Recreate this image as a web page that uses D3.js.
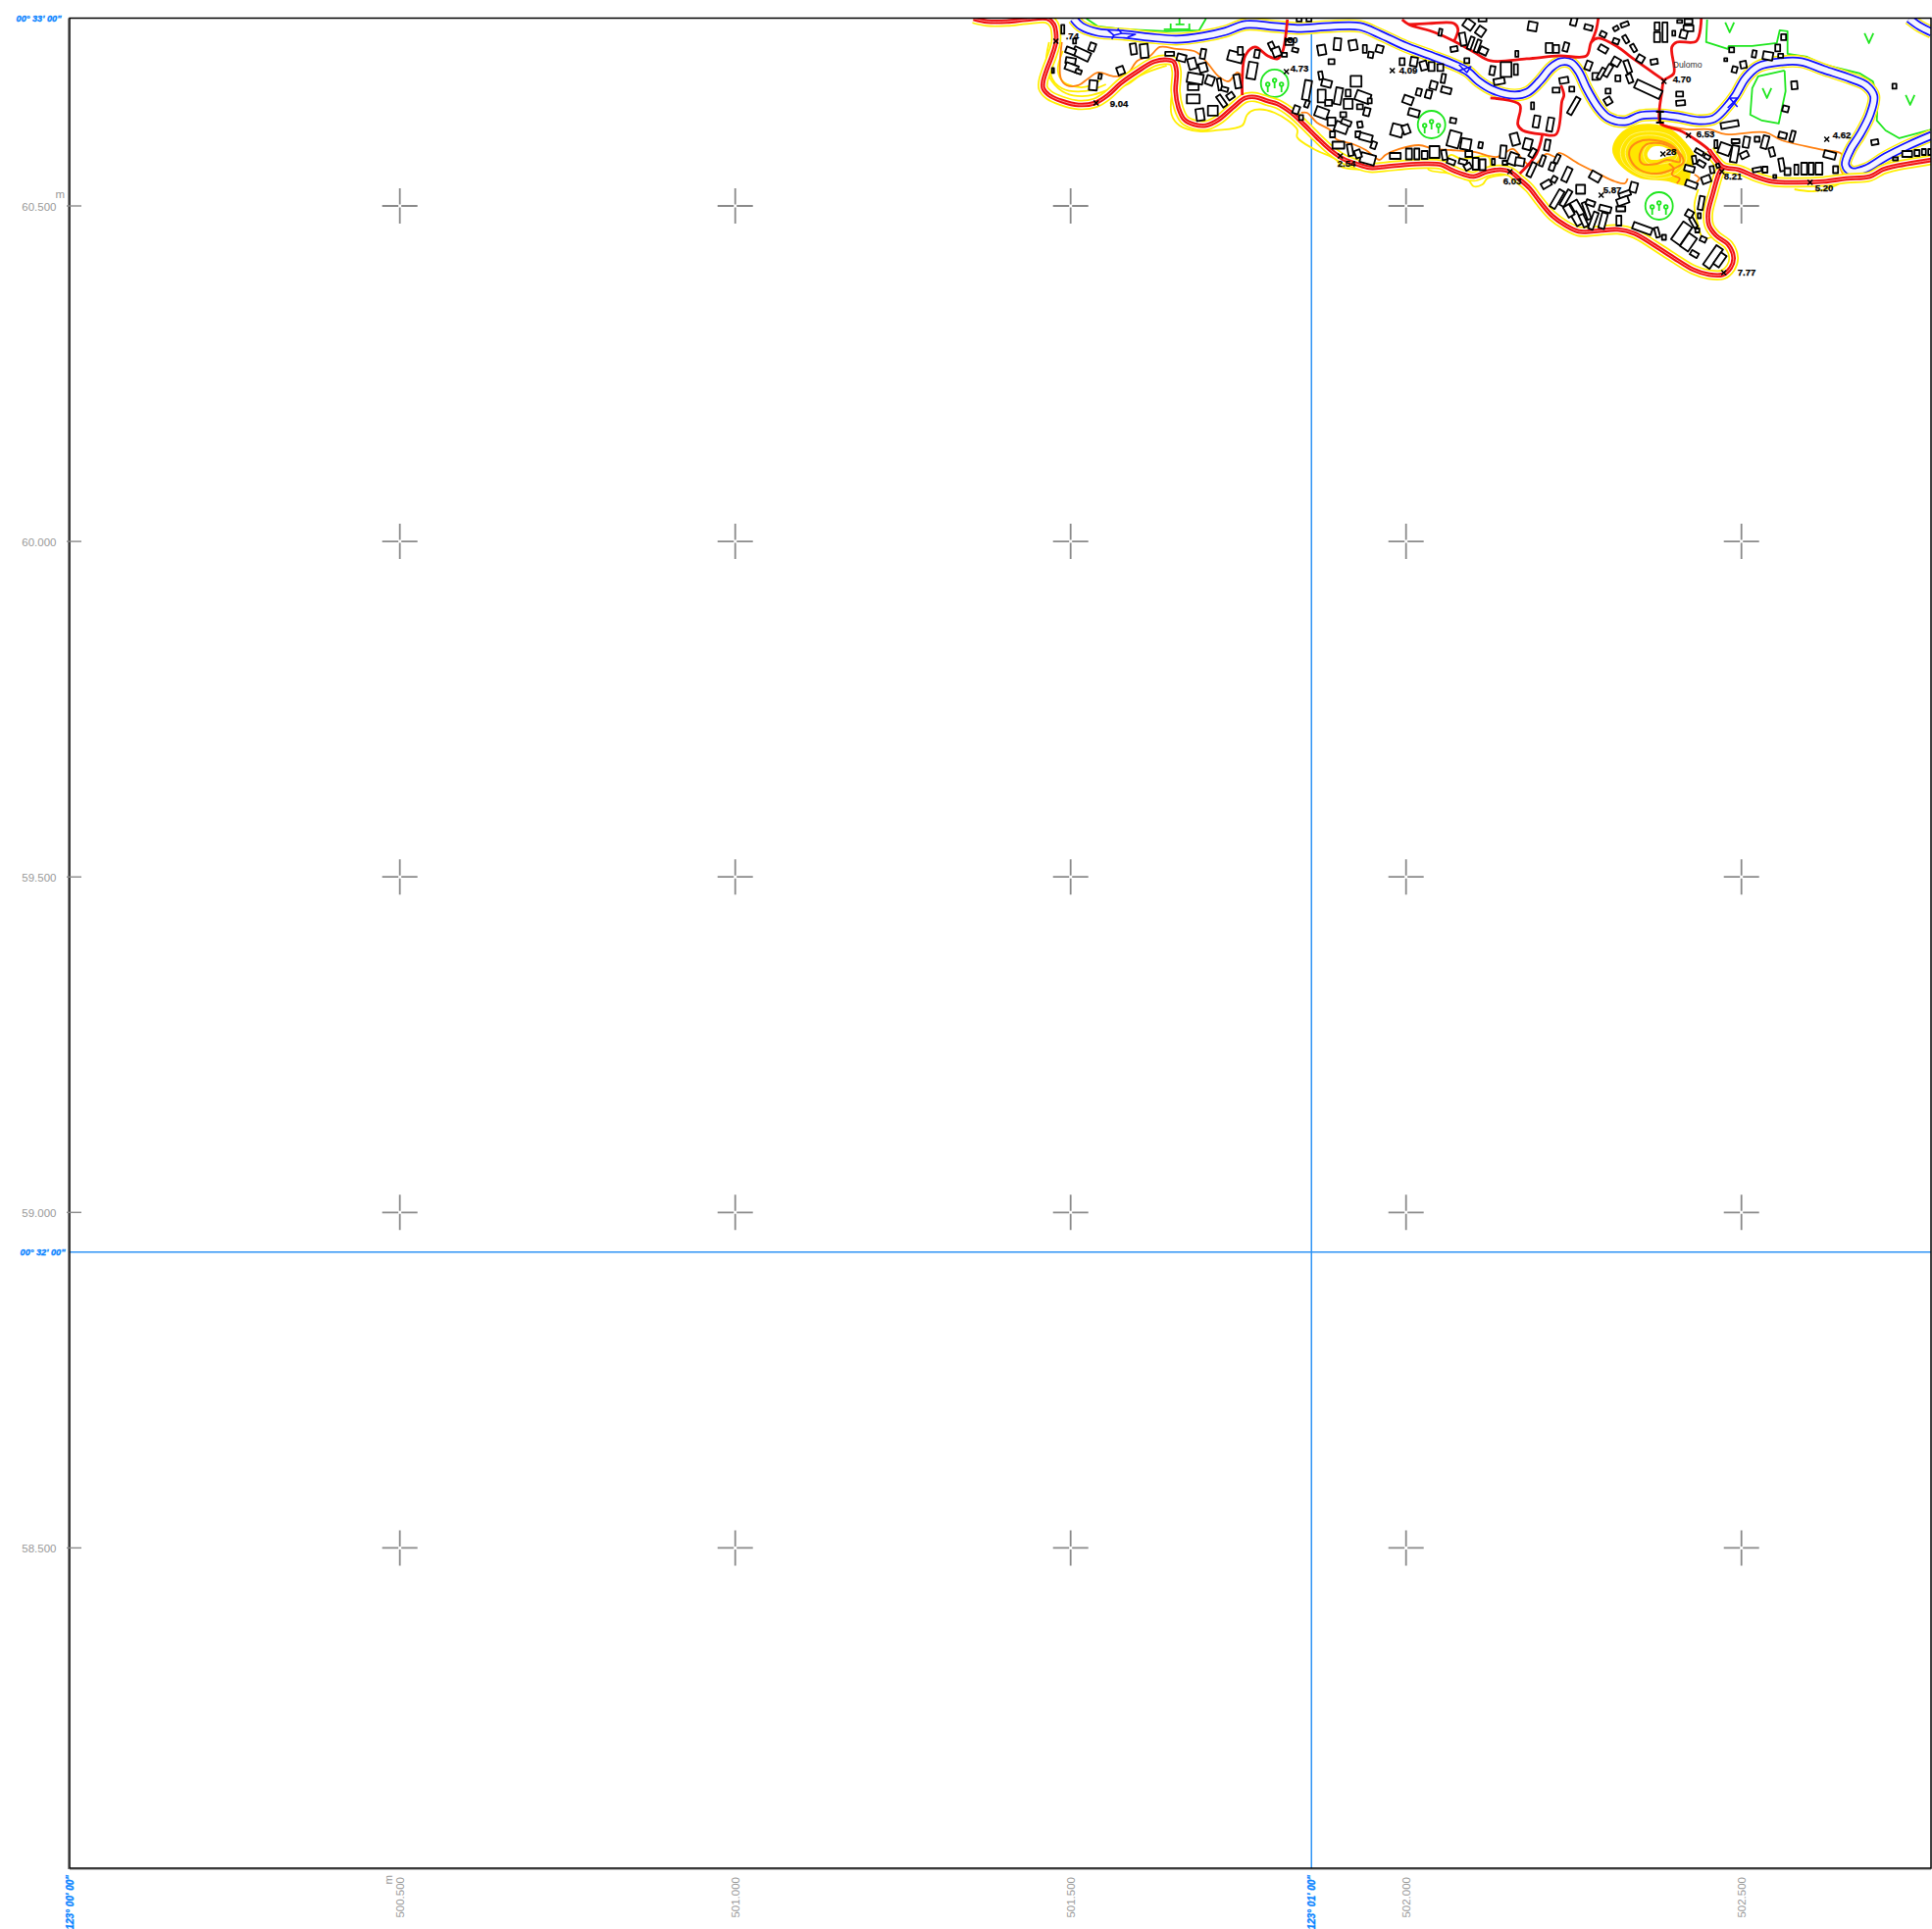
<!DOCTYPE html>
<html>
<meta charset="utf-8">
<style>
  html, body { margin: 0; padding: 0; background: #fff; }
  text { font-family: "Liberation Sans", Arial, sans-serif; }
  .grid-label { fill: #999; font-size: 11.5px; }
  .geo-label { fill: #0a84ff; stroke: #0a84ff; stroke-width: 0.35px; font-size: 9.2px; font-weight: bold; font-style: italic; }
  .spot { fill: #000; stroke: #000; stroke-width: 0.25px; font-size: 9.6px; font-weight: bold; }
</style>
<body>
<div id="map"></div>
<script src="https://d3js.org/d3.v7.min.js"></script>
<script>
// grid of the sheet, metres
const gridEast = [500500, 501000, 501500, 502000, 502500];
const gridNorth = [60500, 60000, 59500, 59000, 58500];
const eastLabels = ["500.500", "501.000", "501.500", "502.000", "502.500"];
const northLabels = ["60.500", "60.000", "59.500", "59.000", "58.500"];

// graticule, metres on the same grid
const geoEast = [500008, 501859];
const geoEastLabels = ["123° 00' 00\"", "123° 01' 00\""];
const geoNorth = [60780, 58941];
const geoNorthLabels = ["00° 33' 00\"", "00° 32' 00\""];

// map features digitised from the sheet: [u, v] in sheet units,
// origin at E 501000 / N 60000, 342 units to one 500 m grid cell
const coastRoad = [[243,533],[257,530],[277,530],[297,532],[318,533],[325,527],[327,519],[327,509],[323,495],[318,482],[314,469],[314,462],[320,455],[333,449],[350,445],[367,447],[380,455],[393,467],[410,479],[427,489],[440,491],[447,489],[450,479],[449,459],[452,442],[458,430],[468,425],[480,424],[493,430],[507,442],[520,452],[530,453],[543,449],[553,446],[567,437],[580,425],[593,412],[607,399],[620,390],[633,385],[647,381],[663,382],[683,384],[703,385],[720,384],[730,379],[743,374],[753,372],[767,377],[780,379],[790,377],[800,369],[810,360],[820,347],[833,332],[847,322],[860,316],[873,316],[883,317],[900,318],[917,314],[937,302],[957,289],[977,277],[993,272],[1007,272],[1015,279],[1018,289],[1013,302],[1000,312],[993,322],[992,335],[997,355],[1003,375],[1007,382]];
const eastCoastRoad = [[993,399],[1007,382],[1023,379],[1040,372],[1057,367],[1083,366],[1110,367],[1133,370],[1157,372],[1170,379],[1180,382],[1220,389]];
const villageRoads = [
  [[1007,382],[993,399],[980,409],[963,419],[953,422],[943,427],[945,459],[947,470],[957,477],[955,504],[960,509],[980,510],[985,533]],
  [[947,470],[930,482],[913,494],[900,504],[880,513],[873,509],[868,495],[840,495],[807,492],[770,490],[753,499],[733,510],[713,519],[687,527],[680,532]],
  [[873,509],[878,522],[880,533]],
  [[687,527],[707,528],[733,528],[737,522],[733,510]],
  [[770,452],[800,445],[798,425],[803,419],[823,415],[837,415],[843,449],[845,455],[842,465]],
  [[823,415],[817,395],[800,375]],
  [[517,455],[517,472],[520,495],[530,504],[543,495],[553,492],[558,499],[563,532]]
];
const riverMain = [[345,533],[353,525],[370,519],[397,517],[423,514],[450,512],[477,515],[500,520],[520,527],[550,525],[573,523],[607,525],[637,525],[657,517],[683,505],[710,495],[733,486],[747,479],[758,469],[773,460],[795,455],[808,458],[820,469],[832,483],[842,489],[852,488],[860,479],[868,462],[880,442],[890,432],[907,428],[923,434],[940,435],[960,433],[983,429],[998,431],[1010,442],[1020,455],[1030,472],[1043,484],[1067,489],[1087,489],[1110,481],[1137,472],[1153,465],[1161,454],[1157,435],[1147,415],[1137,399],[1132,384],[1138,377],[1153,380],[1173,392],[1197,404],[1220,414]];
const riverNorth = [[1197,533],[1208,525],[1220,519]];
const riverMarks = [
  [[380,521],[386,516],[394,518],[390,523]], [[386,516],[384,512]], [[394,518],[408,517],[400,514]],
  [[738,486],[746,478],[750,484],[738,480]], [[1012,442],[1022,452],[1014,452],[1022,443]]
];
const contourLines = [
  [[257,533],[270,532],[282,533]],
  [[320,509],[317,485],[323,469],[337,457],[357,454],[380,460],[400,466],[413,475],[440,485]],
  [[330,520],[326,495],[322,475],[333,462],[357,459],[378,466]],
  [[334,500],[329,480],[335,468],[355,463],[372,470]],
  [[445,455],[445,435],[453,424],[473,418],[490,419],[517,424],[522,435],[530,440],[550,437],[573,420],[573,412],[590,400],[613,389],[618,382],[647,379],[683,381]],
  [[707,383],[707,379],[730,375],[747,369],[753,362],[762,364],[767,370],[787,374]],
  [[725,389],[730,394],[740,390],[768,392],[770,382]],
  [[982,359],[978,342],[982,322],[987,309],[1000,312]],
  [[1080,359],[1100,357],[1120,362],[1133,369]]
];
const orangeLines = [
  [[333,509],[332,472],[338,465],[350,465],[360,472],[370,478],[387,474],[400,477],[410,490],[423,495],[433,504],[450,502],[470,499],[482,487],[493,474],[503,469],[512,478],[518,472]],
  [[577,437],[583,437],[593,427],[607,419],[613,410],[630,405],[643,399],[657,389],[663,394],[677,400],[697,404],[713,400],[730,399],[753,397],[777,392],[793,400],[803,389],[813,382],[827,395],[837,392],[840,396],[860,385],[880,375],[897,367],[907,365],[910,370]],
  [[943,425],[970,420],[993,420],[1010,415],[1050,417],[1067,409],[1110,399],[1128,395],[1127,380],[1133,370]],
  [[952,385],[957,380],[955,374],[963,370],[960,365]],
  [[978,374],[983,370],[980,366]]
];
const hillOutline = [[895,400],[900,412],[913,422],[933,425],[953,420],[968,407],[978,392],[974,378],[970,364],[950,368],[923,371],[907,380],[897,392]];
const hillPale = [
  [[903,400],[913,414],[933,418],[953,414],[967,400],[970,389],[960,375],[940,370],[920,375],[905,387]],
  [[908,400],[916,411],[936,414],[955,408],[964,397],[964,384],[952,376],[935,373],[918,378],[909,389]],
  [[926,396],[932,405],[948,404],[961,396],[958,389],[945,385],[930,386]]
];
const hillOrange = [
  [[912,399],[920,407],[938,409],[957,402],[967,387],[957,380],[940,375],[922,379],[913,389]],
  [[922,392],[928,404],[947,405],[962,395],[963,387],[950,389],[940,385],[925,385]]
];
const hillTop = [[930,395],[935,402],[947,402],[958,394],[950,392],[940,389],[932,390]];
const greenLines = [
  [[358,533],[370,525],[397,522],[440,520],[473,521],[480,533]],
  [[991,532],[990,509],[1012,502],[1013,505],[1037,505],[1062,508],[1065,521],[1073,520],[1073,497],[1093,494],[1110,486],[1147,477],[1160,469],[1165,452],[1164,429],[1173,419],[1187,411],[1220,420]],
  [[1070,480],[1043,474],[1037,462],[1035,435],[1047,429],[1064,426],[1071,459],[1070,480]],
  [[437,522],[464,522]], [[444,522],[444,528]], [[463,522],[463,528]], [[453,527],[453,533]], [[449,527],[458,527]]
];
const meadowMarks = [[1014,524],[1156,513],[1052,457],[1198,450]];
const treeCircles = [[550,467],[710,425],[942,342]];
const bridge = [[[943,427],[943,438]], [[939,438],[947,438]], [[939,427],[947,427]]];

// buildings: [u, v, width, depth, angle]
const buildings = [
  [334,522,3,9,0],[364,504,6,8,20],[353,497,18,9,25],[342,500,10,6,20],[342,490,10,6,10],[343,483,13,7,20],[350,479,6,4,20],[346,510,3,5,0],[324,480,2,5,0],
  [406,502,6,11,-8],[417,500,8,14,-5],[393,480,7,8,-20],[365,465,8,10,5],[372,474,3,5,10],[443,497,9,4,0],[455,493,9,7,15],[477,497,5,10,10],[466,487,8,11,-15],[477,483,8,9,-15],
  [469,472,16,10,10],[467,463,11,6,0],[467,451,13,9,0],[484,470,8,9,20],[494,466,4,12,-10],[499,461,7,4,15],[505,454,7,6,-35],[496,449,5,13,-35],[487,439,10,10,0],[474,435,8,12,-8],
  [512,469,6,14,-10],[510,494,15,10,15],[515,500,5,8,0],[527,480,9,17,10],[532,497,5,8,10],[547,505,5,8,-25],
  [575,532,5,4,0],[585,532,5,4,0],[552,499,8,9,-20],[560,496,5,4,0],[565,509,8,6,0],[571,501,6,4,15],[598,501,8,10,-10],[614,507,7,12,5],[630,506,8,10,-10],[642,502,4,8,0],[648,496,5,6,10],[657,502,7,7,15],[608,489,6,5,0],
  [583,460,7,20,10],[597,475,4,8,-10],[603,467,10,7,15],[633,469,11,11,0],[598,454,8,13,0],[615,454,7,17,10],[625,457,5,7,0],[640,453,15,10,20],[625,446,9,10,0],[637,443,6,5,0],[647,449,4,5,0],[644,438,6,8,15],[620,435,6,5,0],[605,447,7,6,0],
  [572,440,6,8,20],[583,446,4,7,20],[598,437,13,10,20],[608,428,8,8,0],[618,422,13,10,20],[623,427,10,5,20],[637,425,5,6,-10],[635,415,5,6,0],[643,412,13,7,15],[651,404,5,7,20],[609,415,5,6,0],[615,404,12,7,0],[627,399,5,12,-10],[645,390,15,10,15],[635,395,6,8,-20],[577,432,4,5,0],
  [680,489,5,7,0],[692,489,7,9,10],[702,485,7,9,-15],[710,484,6,9,0],[719,483,6,7,0],[722,472,4,9,10],[712,465,7,8,15],[725,460,10,6,15],[697,458,5,7,15],[707,456,6,8,15],[686,450,10,8,20],[692,437,11,7,15],[675,419,12,12,15],[684,420,7,9,-20],[732,429,6,5,10],
  [733,410,12,16,15],[745,405,10,11,10],[760,404,4,6,10],[748,395,7,6,0],[783,397,6,13,5],[795,410,8,12,-15],[808,405,8,11,15],[813,396,5,9,30],[828,404,5,11,10],
  [673,393,11,6,0],[687,395,6,11,0],[695,395,5,11,0],[703,394,6,8,0],[713,397,10,12,0],[723,394,5,10,-10],[730,387,8,5,20],[742,387,8,5,15],[747,382,7,6,-30],[755,385,6,12,0],[762,384,6,11,0],[773,387,3,6,0],[785,386,5,4,0],[793,390,9,12,20],[800,387,9,8,10],
  [812,379,5,15,25],[823,388,4,11,20],[833,382,5,8,20],[838,390,4,9,25],[848,374,6,15,25],[835,369,5,6,30],[827,364,10,6,-30],[838,349,6,20,30],[847,350,5,18,30],[860,337,8,22,-30],
  [719,519,3,7,10],[748,527,10,9,35],[760,520,8,9,35],[742,512,6,13,-10],[750,508,4,13,20],[757,505,4,13,20],[763,500,8,7,25],[733,502,7,5,-10],[746,490,5,5,0],[762,532,8,4,0],[813,525,9,9,10],[855,530,6,8,15],[870,524,8,5,15],[797,497,3,6,0],
  [772,480,5,9,10],[786,481,11,15,0],[796,481,4,11,0],[779,469,11,6,-10],[830,503,7,10,0],[837,502,6,8,0],[847,504,5,9,15],[837,460,7,5,0],[845,470,9,6,-10],[853,461,5,5,0],[855,444,5,19,30],[813,444,3,7,0],[817,428,6,12,10],[831,425,6,14,10],[870,485,6,9,20],[877,474,6,7,0],
  [885,517,6,5,25],[898,510,6,5,20],[908,512,4,8,-30],[916,503,4,8,-30],[923,492,7,7,30],[937,489,7,5,-10],[907,527,8,4,-20],[898,523,5,4,-30],[940,525,5,8,0],[940,514,6,10,0],[948,519,5,20,0],[963,530,5,3,0],[972,530,8,5,0],[972,523,10,6,0],[957,518,3,5,0],[967,517,7,8,15],
  [885,502,9,6,30],[898,489,8,8,30],[910,484,5,13,-20],[900,472,5,6,0],[912,472,5,9,-20],[890,480,5,13,30],[883,477,4,12,30],[931,461,28,9,25],[890,459,5,5,0],[890,449,7,7,-30],[963,456,7,5,0],[964,447,9,5,-5],
  [1010,491,3,3,0],[1019,481,5,6,15],[1028,486,6,7,-10],[1016,501,5,5,0],[1039,497,4,7,10],[1053,495,10,8,10],[1063,503,5,7,0],[1066,495,5,4,0],[1069,514,5,6,0],[1080,465,6,8,-5],[1071,441,6,6,15],[1182,464,4,5,0],[1162,407,7,5,-10],
  [1014,425,18,6,-10],[1000,405,3,8,0],[1009,400,12,11,20],[1019,395,7,17,10],[1020,408,8,4,0],[1031,407,6,11,10],[1029,394,8,6,-25],[1042,410,5,5,0],[1050,407,6,13,15],[1057,397,5,9,-15],[1068,414,8,6,15],[1078,413,4,11,15],[1116,394,12,7,15],[1122,379,5,7,0],[1067,384,5,13,-10],[1073,377,6,7,0],[1082,379,4,10,0],[1090,380,6,12,0],[1097,380,5,12,0],[1105,380,7,12,0],[1060,372,3,3,0],[1042,379,9,4,-10],[1050,379,5,6,0],[1183,390,5,3,0],[1195,395,10,6,0],[1205,396,5,6,0],[1212,397,4,6,0],[1218,397,3,6,0],
  [983,397,9,4,30],[991,392,6,4,30],[978,389,4,8,-10],[985,385,8,5,30],[973,380,10,6,15],[996,379,4,7,-10],[990,369,9,7,-20],[975,364,12,6,20],[1002,383,3,4,-20],
  [985,345,5,14,10],[983,332,3,5,0],[973,334,7,7,30],[977,325,4,11,-30],[981,317,4,4,0],[987,308,6,5,25],[965,314,11,22,35],[972,305,10,16,35],[978,293,8,5,30],[997,290,8,24,35],[1004,287,7,14,35],[925,319,20,7,20],[940,315,4,10,-15],[947,310,4,5,0],
  [916,361,7,10,15],[907,354,12,5,-20],[905,347,12,7,-20],[903,339,9,5,0],[901,327,5,10,0],[887,339,12,6,15],[885,327,6,16,15],[875,327,5,18,20],[868,337,4,18,-20],[872,345,9,5,20],[862,359,9,9,0],[877,372,11,8,30],[858,329,7,14,-30],[850,337,7,12,-30],[865,327,5,13,-25]
];

// spot heights: [label, mark u, mark v, label u, label v]
const spotHeights = [
  ["9.04",368,447,382,446],[".74",327,510,337,515],["4.73",562,479,566,482],["4.09",670,480,677,480],["50",563,511,563,511],
  ["4.70",947,469,956,471],["6.53",972,414,980,415],["4.62",1113,410,1119,414],["8.21",1006,377,1008,372],["7.77",1008,274,1022,274],
  ["5.87",883,353,885,358],["5.20",1096,366,1101,360],["6.03",790,377,783,367],["2.54",617,393,614,385],["28",946,395,949,397]
];
const placeName = "Dulomo";
const placeAt = [956, 486];

// set the dimensions of the sheet
const totalWidth = 1970, totalHeight = 1967;
const frame = {left: 71, top: 18.5, right: 1969, bottom: 1905};

const x = d3.scaleLinear().domain([500500, 502500]).range([407.7, 1775.7]);
const y = d3.scaleLinear().domain([60500, 58500]).range([210, 1578.4]);
const eastOf = d3.scaleLinear().domain([0, 342]).range([501000, 501500]);
const northOf = d3.scaleLinear().domain([0, 342]).range([60000, 60500]);
const px = u => x(eastOf(u));
const py = v => y(northOf(v));
const len = d => px(d) - px(0);

const curved = d3.line().x(d => px(d[0])).y(d => py(d[1])).curve(d3.curveCatmullRom.alpha(0.5));
const closed = d3.line().x(d => px(d[0])).y(d => py(d[1])).curve(d3.curveCatmullRomClosed.alpha(0.5));
const straight = d3.line().x(d => px(d[0])).y(d => py(d[1]));

const svg = d3.select("#map").append("svg")
  .attr("width", totalWidth).attr("height", totalHeight)
  .style("display", "block");

svg.append("clipPath").attr("id", "sheet").append("rect")
  .attr("x", frame.left).attr("y", frame.top)
  .attr("width", frame.right - frame.left).attr("height", frame.bottom - frame.top);

// graticule
const geo = svg.append("g").attr("stroke", "#2f93f5").attr("stroke-width", 1.5);
geo.append("line").attr("x1", x(geoEast[1])).attr("x2", x(geoEast[1])).attr("y1", frame.top).attr("y2", frame.bottom);
geo.append("line").attr("y1", y(geoNorth[1])).attr("y2", y(geoNorth[1])).attr("x1", frame.left).attr("x2", frame.right);

const map = svg.append("g").attr("clip-path", "url(#sheet)").attr("fill", "none").attr("stroke-linejoin", "round");

function stroke(parent, lines, color, w, gen) {
  parent.append("g").selectAll("path").data(lines).join("path")
    .attr("d", gen || curved).attr("stroke", color).attr("stroke-width", w);
}

// contours under everything
stroke(map, contourLines, "#ffee00", 1.8);

// hill
map.append("path").datum(hillOutline).attr("d", closed).attr("fill", "#ffe600").attr("stroke", "#ffe600").attr("stroke-width", 1.5);
stroke(map, hillPale, "#fff480", 0.9, closed);
stroke(map, hillOrange, "#ff8c14", 2, closed);
map.append("path").datum(hillTop).attr("d", closed).attr("fill", "#fff");
stroke(map, orangeLines, "#ff8010", 1.8);

// green lines and symbols
stroke(map, greenLines, "#1ee61e", 1.8, straight);
map.append("g").selectAll("path").data(meadowMarks).join("path")
  .attr("d", d => `M${px(d[0]) - 4.5},${py(d[1]) - 5}L${px(d[0])},${py(d[1]) + 5}L${px(d[0]) + 4.5},${py(d[1]) - 5}`)
  .attr("stroke", "#1ee61e").attr("stroke-width", 1.8);

const trees = map.append("g").selectAll("g").data(treeCircles).join("g")
  .attr("transform", d => `translate(${px(d[0])},${py(d[1])})`)
  .attr("stroke", "#1ee61e").attr("stroke-width", 1.8);
trees.append("circle").attr("r", 14);
[[-7, 1], [0, -3], [7, 1]].forEach(o => {
  trees.append("circle").attr("cx", o[0]).attr("cy", o[1]).attr("r", 1.8);
  trees.append("line").attr("x1", o[0]).attr("x2", o[0]).attr("y1", o[1] + 2).attr("y2", o[1] + 8);
});

// river: stacked strokes give the bank lines
[riverMain, riverNorth].forEach(r => {
  stroke(map, [r], "#ffee00", 13);
  stroke(map, [r], "#fff", 10.2);
  stroke(map, [r], "#1010ff", 9);
  stroke(map, [r], "#f4f4ff", 5.6);
});
stroke(map, riverMarks, "#1010ff", 1.6, straight);

// roads
[coastRoad, eastCoastRoad].forEach(r => {
  stroke(map, [r], "#ffee00", 10.6);
  stroke(map, [r], "#fff", 7.2);
});
stroke(map, villageRoads, "#f01010", 2.8);
[coastRoad, eastCoastRoad].forEach(r => {
  stroke(map, [r], "#f01010", 4.6);
  stroke(map, [r], "#ffb0b0", 0.8);
});
stroke(map, bridge, "#000", 2.2, straight);

// buildings
map.append("g").selectAll("rect").data(buildings).join("rect")
  .attr("x", d => -len(d[2]) / 2).attr("y", d => -len(d[3]) / 2)
  .attr("width", d => len(d[2])).attr("height", d => len(d[3]))
  .attr("transform", d => `translate(${px(d[0])},${py(d[1])}) rotate(${d[4]})`)
  .attr("fill", "#fff").attr("stroke", "#000").attr("stroke-width", 1.8);

// spot heights
map.append("g").selectAll("path").data(spotHeights).join("path")
  .attr("d", d => `M${px(d[1]) - 2.5},${py(d[2]) - 2.5}l5,5m0,-5l-5,5`)
  .attr("stroke", "#000").attr("stroke-width", 1.5);
svg.append("g").selectAll("text").data(spotHeights).join("text")
  .attr("class", "spot")
  .attr("x", d => px(d[3])).attr("y", d => py(d[4])).attr("dy", ".35em")
  .text(d => d[0]);
svg.append("text").attr("x", px(placeAt[0])).attr("y", py(placeAt[1])).attr("dy", ".35em")
  .attr("font-size", 8.7).attr("fill", "#333").text(placeName);

// grid crosses
const crossing = gridEast.flatMap(e => gridNorth.map(n => [e, n]));
svg.append("g").selectAll("path").data(crossing).join("path")
  .attr("d", d => {
    const cx = x(d[0]), cy = y(d[1]);
    return `M${cx - 18},${cy}H${cx - 1.5}M${cx + 1.5},${cy}H${cx + 18}M${cx},${cy - 18}V${cy - 1.5}M${cx},${cy + 1.5}V${cy + 18}`;
  })
  .attr("fill", "none").attr("stroke", "#8a8a8a").attr("stroke-width", 1.8);

// frame
svg.append("line").attr("x1", frame.left - 1.4).attr("x2", frame.left - 1.4)
  .attr("y1", frame.top).attr("y2", frame.bottom + 1).attr("stroke", "#888").attr("stroke-width", 1.2);
svg.append("line").attr("x1", frame.left).attr("x2", frame.right)
  .attr("y1", frame.bottom + 1.2).attr("y2", frame.bottom + 1.2).attr("stroke", "#999").attr("stroke-width", 1);
svg.append("rect").attr("x", frame.left).attr("y", frame.top)
  .attr("width", frame.right - frame.left).attr("height", frame.bottom - frame.top)
  .attr("fill", "none").attr("stroke", "#000").attr("stroke-width", 1.5);

// left ticks and grid labels
svg.append("g").selectAll("line").data(gridNorth).join("line")
  .attr("x1", 68).attr("x2", 83).attr("y1", d => y(d)).attr("y2", d => y(d))
  .attr("stroke", "#8a8a8a").attr("stroke-width", 1.4);
svg.append("g").selectAll("text").data(gridNorth).join("text")
  .attr("class", "grid-label").attr("text-anchor", "end")
  .attr("x", 57.5).attr("y", d => y(d)).attr("dy", ".4em")
  .text((d, i) => northLabels[i]);
svg.append("g").selectAll("text").data(gridEast).join("text")
  .attr("class", "grid-label").attr("text-anchor", "end")
  .attr("transform", d => `translate(${x(d)},1914) rotate(-90)`).attr("dy", ".35em")
  .text((d, i) => eastLabels[i]);
svg.append("text").attr("class", "grid-label").attr("text-anchor", "end")
  .attr("x", 66).attr("y", 202).text("m");
svg.append("text").attr("class", "grid-label").attr("text-anchor", "end")
  .attr("transform", `translate(${x(gridEast[0]) - 8},1912) rotate(-90)`).text("m");

// graticule labels
svg.append("g").selectAll("text").data(geoNorth).join("text")
  .attr("class", "geo-label").attr("text-anchor", "end")
  .attr("x", (d, i) => i == 0 ? 62.5 : 66.5).attr("y", d => y(d)).attr("dy", ".35em")
  .text((d, i) => geoNorthLabels[i]);
svg.append("g").selectAll("text").data(geoEast).join("text")
  .attr("class", "geo-label").attr("text-anchor", "end").style("font-size", "10px")
  .attr("transform", d => `translate(${x(d)},1912) rotate(-90)`).attr("dy", ".35em")
  .text((d, i) => geoEastLabels[i]);
</script>
</body>
</html>
